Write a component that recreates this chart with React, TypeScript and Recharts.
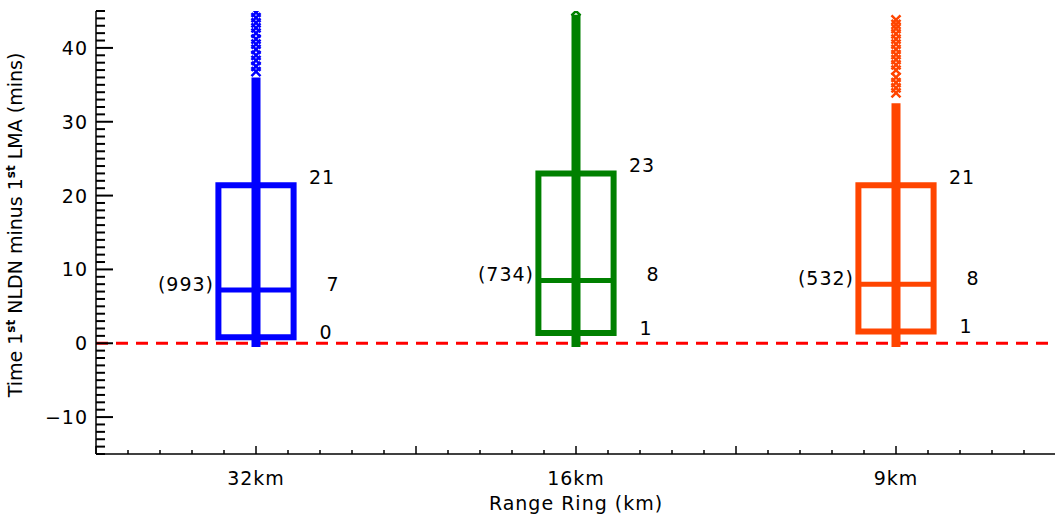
import React from "react";
import { ComposedChart, XAxis, YAxis, Scatter, ReferenceArea, ReferenceLine } from "recharts";

// range rings, placed at x = 1, 3, 5 on a 0..6 axis
const rings = ["32km", "16km", "9km"];
const ringPos = [1, 3, 5];
const counts = ["(993)", "(734)", "(532)"];

// box statistics (mins)
const q1 = [0.8, 1.4, 1.6];
const medians = [7.2, 8.5, 8.0];
const q3 = [21.4, 23.0, 21.4];
const stripLow = [-0.5, -0.5, -0.5];
const stripHigh = [36.0, 44.5, 32.5];

const q1Labels = ["0", "1", "1"];
const medianLabels = ["7", "8", "8"];
const q3Labels = ["21", "23", "21"];

// sparse outliers above the dense strip
const outliers32 = [36.8, 37.5, 38.3, 39.0, 39.8, 40.5, 41.2, 42.0, 42.7, 43.4, 44.1, 44.8];
const outliers16 = [45.0];
const outliers9 = [33.9, 34.6, 35.3, 36.0, 37.0, 37.7, 38.4, 39.1, 39.8, 40.5, 41.2, 41.9, 42.6, 43.2, 43.8];

const yLabels = [-10, 0, 10, 20, 30, 40];

const colors = ["#0000ff", "#008000", "#ff4500"];
const FONT = "DejaVu Sans";
const BOX_HALF = 0.235;

const xTicks = Array.from({ length: 31 }, (_, k) => k / 5);
const yTicks = Array.from({ length: 61 }, (_, k) => k - 15);

const isMajor = (v: number) => Math.abs(v - Math.round(v)) < 1e-6;

const textStyle = { fontFamily: FONT, fontSize: 19, fill: "#000", letterSpacing: 1 };

function BottomTick(props: any) {
  const { x, y, payload } = props;
  const v = payload.value;
  const major = isMajor(v);
  const idx = ringPos.indexOf(Math.round(v));
  const label = major && idx >= 0 ? rings[idx] : null;
  return (
    <g>
      <line x1={x} x2={x} y1={y} y2={y - (major ? 8 : 4)} stroke="#000" strokeWidth={1.5} />
      {label && (
        <text x={x} y={y + 31} textAnchor="middle" style={textStyle}>
          {label}
        </text>
      )}
    </g>
  );
}

function TopTick(props: any) {
  const { x, y, payload } = props;
  const major = isMajor(payload.value);
  return <line x1={x} x2={x} y1={y} y2={y + (major ? 8 : 4)} stroke="#000" strokeWidth={1.5} />;
}

function LeftTick(props: any) {
  const { x, y, payload } = props;
  const v = payload.value;
  const major = v % 10 === 0;
  return (
    <g>
      <line x1={x} x2={x + (major ? 17 : 9)} y1={y} y2={y} stroke="#000" strokeWidth={2} />
      {yLabels.includes(v) && (
        <text x={x - 8} y={y + 7} textAnchor="end" style={textStyle}>
          {v === -10 ? "\u221210" : v}
        </text>
      )}
    </g>
  );
}

function RightTick(props: any) {
  const { x, y, payload } = props;
  const major = payload.value % 10 === 0;
  return <line x1={x} x2={x - (major ? 17 : 9)} y1={y} y2={y} stroke="#000" strokeWidth={2} />;
}

const xMark = (color: string) => (p: any) => {
  const s = 4.5;
  return (
    <path
      d={`M${p.cx - s},${p.cy - s}L${p.cx + s},${p.cy + s}M${p.cx - s},${p.cy + s}L${p.cx + s},${p.cy - s}`}
      stroke={color}
      strokeWidth={2.5}
      fill="none"
    />
  );
};

const textAt = (dx: number, dy: number, anchor: "start" | "middle" | "end") => (p: any) => (
  <text x={p.cx + dx} y={p.cy + dy} textAnchor={anchor} style={textStyle}>
    {p.payload.text}
  </text>
);

const outlierSets = [outliers32, outliers16, outliers9];

export default function App() {
  const q3Points = ringPos.map((x, i) => ({ x, y: q3[i], text: q3Labels[i] }));
  const medPoints = ringPos.map((x, i) => ({ x, y: medians[i], text: medianLabels[i] }));
  const q1Points = ringPos.map((x, i) => ({ x, y: q1[i], text: q1Labels[i] }));
  const countPoints = ringPos.map((x, i) => ({ x, y: medians[i], text: counts[i] }));

  return (
    <div style={{ width: 1055, height: 515, overflow: "hidden", background: "#fff" }}>
      <style>{"body{margin:0}"}</style>
      <ComposedChart
        width={1058}
        height={515}
        margin={{ top: 11, right: 2, bottom: 0, left: 0 }}
        style={{ fontFamily: FONT }}
      >
        <XAxis
          xAxisId="b"
          dataKey="x"
          type="number"
          domain={[0, 6]}
          ticks={xTicks}
          interval={0}
          height={61}
          tickSize={0}
          tickMargin={0}
          tickLine={false}
          tick={<BottomTick />}
          axisLine={{ stroke: "#000", strokeWidth: 1.5 }}
          allowDataOverflow
        />
        <XAxis
          xAxisId="t"
          orientation="top"
          dataKey="x"
          type="number"
          domain={[0, 6]}
          ticks={xTicks}
          interval={0}
          height={0}
          tickSize={0}
          tickMargin={0}
          tickLine={false}
          tick={<TopTick />}
          axisLine={{ stroke: "#000", strokeWidth: 1.5 }}
          allowDataOverflow
        />
        <YAxis
          yAxisId="l"
          dataKey="y"
          type="number"
          domain={[-15, 45]}
          ticks={yTicks}
          interval={0}
          width={96}
          tickSize={0}
          tickMargin={0}
          tickLine={false}
          tick={<LeftTick />}
          axisLine={{ stroke: "#000", strokeWidth: 1.5 }}
          allowDataOverflow
        />
        <YAxis
          yAxisId="r"
          orientation="right"
          dataKey="y"
          type="number"
          domain={[-15, 45]}
          ticks={yTicks}
          interval={0}
          width={0}
          tickSize={0}
          tickMargin={0}
          tickLine={false}
          tick={<RightTick />}
          axisLine={{ stroke: "#000", strokeWidth: 1.5 }}
          allowDataOverflow
        />

        <ReferenceLine
          xAxisId="b"
          yAxisId="l"
          y={0}
          stroke="#ff0000"
          strokeWidth={3}
          strokeDasharray="12 8"
        />

        {ringPos.map((x, i) => (
          <ReferenceArea
            key={`box${i}`}
            xAxisId="b"
            yAxisId="l"
            x1={x - BOX_HALF}
            x2={x + BOX_HALF}
            y1={q1[i]}
            y2={q3[i]}
            fill="none"
            fillOpacity={0}
            stroke={colors[i]}
            strokeWidth={6}
            strokeOpacity={1}
          />
        ))}
        {ringPos.map((x, i) => (
          <ReferenceLine
            key={`med${i}`}
            xAxisId="b"
            yAxisId="l"
            segment={[
              { x: x - BOX_HALF, y: medians[i] },
              { x: x + BOX_HALF, y: medians[i] },
            ]}
            stroke={colors[i]}
            strokeWidth={5}
          />
        ))}
        {ringPos.map((x, i) => (
          <ReferenceLine
            key={`strip${i}`}
            xAxisId="b"
            yAxisId="l"
            segment={[
              { x, y: stripLow[i] },
              { x, y: stripHigh[i] },
            ]}
            stroke={colors[i]}
            strokeWidth={9}
          />
        ))}

        {ringPos.map((x, i) => (
          <Scatter
            key={`out${i}`}
            xAxisId="b"
            yAxisId="l"
            data={outlierSets[i].map((y) => ({ x, y }))}
            shape={xMark(colors[i])}
            isAnimationActive={false}
          />
        ))}

        <Scatter xAxisId="b" yAxisId="l" data={q3Points} shape={textAt(66, -1, "middle")} isAnimationActive={false} />
        <Scatter xAxisId="b" yAxisId="l" data={medPoints} shape={textAt(77, 1, "middle")} isAnimationActive={false} />
        <Scatter xAxisId="b" yAxisId="l" data={q1Points} shape={textAt(70, 2, "middle")} isAnimationActive={false} />
        <Scatter xAxisId="b" yAxisId="l" data={countPoints} shape={textAt(-42, 1, "end")} isAnimationActive={false} />

        <Scatter xAxisId="t" yAxisId="r" data={[{ x: 0, y: 0 }]} shape={() => <g />} isAnimationActive={false} />

        <text
          transform="translate(22,225) rotate(-90)"
          textAnchor="middle"
          style={{ ...textStyle, letterSpacing: 0 }}
        >
          Time 1<tspan dy={-7} fontSize={12} fontWeight="bold">st</tspan>
          <tspan dy={7}> NLDN minus 1</tspan>
          <tspan dy={-7} fontSize={12} fontWeight="bold">st</tspan>
          <tspan dy={7}> LMA (mins)</tspan>
        </text>
        <text x={576} y={510} textAnchor="middle" style={textStyle}>
          Range Ring (km)
        </text>
      </ComposedChart>
    </div>
  );
}
